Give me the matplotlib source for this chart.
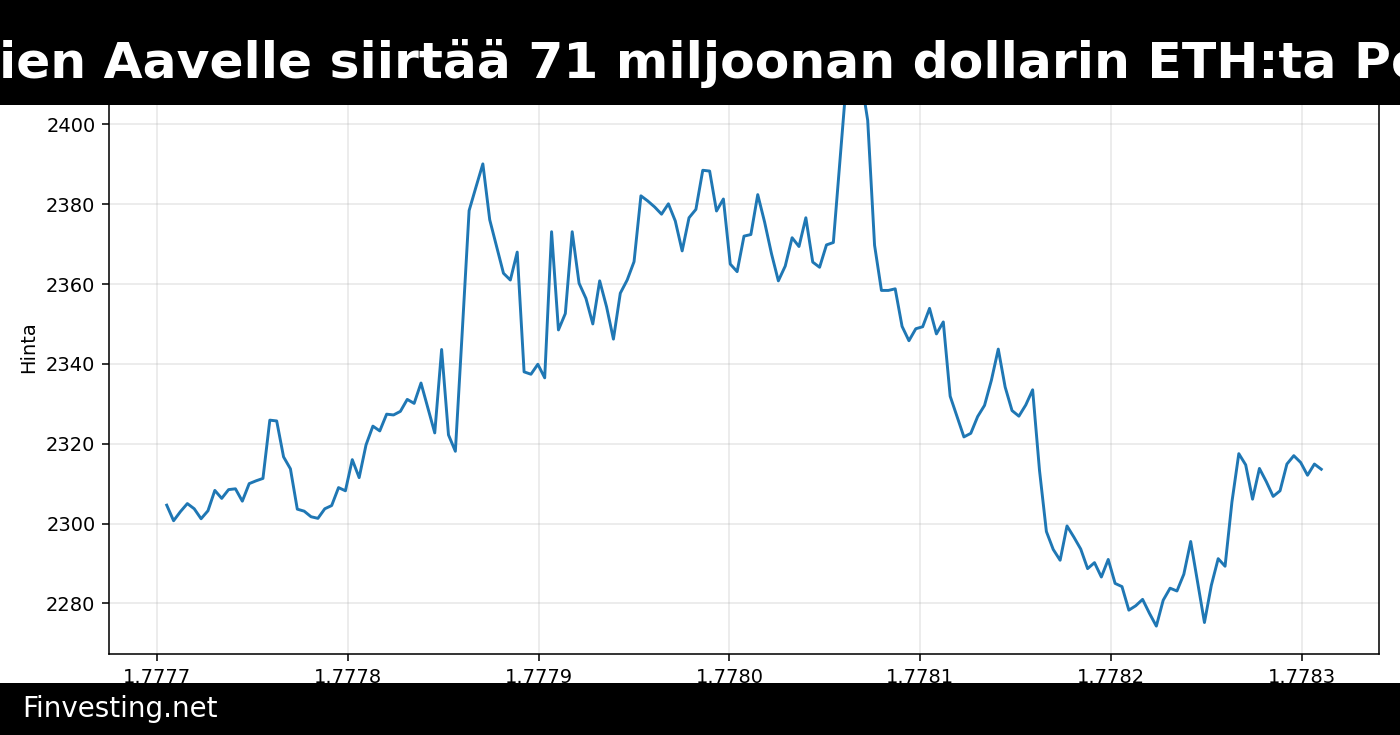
import numpy as np
import matplotlib
matplotlib.use('Agg')
import matplotlib.pyplot as plt

# hourly ETH price, timestamps in unix seconds
start_ts = 1777705200
precos = [
    2304.6, 2300.7, 2303.0, 2305.0, 2303.7, 2301.2, 2303.2, 2308.3, 2306.3, 2308.5,
    2308.7, 2305.6, 2310.0, 2310.7, 2311.3, 2325.9, 2325.7, 2316.7, 2313.7, 2303.6,
    2303.1, 2301.7, 2301.3, 2303.7, 2304.5, 2309.0, 2308.2, 2316.0, 2311.5, 2319.7,
    2324.4, 2323.2, 2327.4, 2327.2, 2328.1, 2331.1, 2330.1, 2335.2, 2328.9, 2322.7,
    2343.6, 2322.2, 2318.1, 2348.0, 2378.4, 2384.3, 2390.1, 2376.1, 2369.4, 2362.7,
    2361.0, 2368.0, 2338.0, 2337.4, 2339.9, 2336.5, 2373.1, 2348.5, 2352.6, 2373.1,
    2360.2, 2356.4, 2350.0, 2360.8, 2354.3, 2346.2, 2357.7, 2361.0, 2365.6, 2382.1,
    2380.8, 2379.3, 2377.5, 2380.1, 2375.8, 2368.3, 2376.6, 2378.7, 2388.5, 2388.3,
    2378.3, 2381.3, 2365.0, 2363.1, 2372.0, 2372.4, 2382.4, 2375.5, 2367.6, 2360.8,
    2364.5, 2371.6, 2369.4, 2376.6, 2365.5, 2364.2, 2369.8, 2370.4, 2391.6, 2413.0,
    2414.0, 2412.0, 2401.0, 2369.7, 2358.4, 2358.4, 2358.8, 2349.4, 2345.8, 2348.8,
    2349.3, 2353.9, 2347.5, 2350.5, 2331.9, 2326.8, 2321.7, 2322.6, 2326.8, 2329.6,
    2335.9, 2343.7, 2334.2, 2328.3, 2326.9, 2329.7, 2333.5, 2313.3, 2298.0, 2293.5,
    2290.8, 2299.4, 2296.6, 2293.6, 2288.7, 2290.2, 2286.6, 2291.0, 2285.0, 2284.2,
    2278.3, 2279.4, 2281.0, 2277.5, 2274.3, 2280.8, 2283.8, 2283.1, 2287.3, 2295.5,
    2285.4, 2275.2, 2284.5, 2291.2, 2289.3, 2305.4, 2317.5, 2314.7, 2306.1, 2313.8,
    2310.5, 2306.8, 2308.2, 2314.9, 2317.0, 2315.3, 2312.1, 2314.9, 2313.6,
]
tempos = start_ts + 3600 * np.arange(len(precos))

titulo = 'ien Aavelle siirtää 71 miljoonan dollarin ETH:ta Po'
marca = 'Finvesting.net'

fig = plt.figure(figsize=(10, 5.25), dpi=140)
ax = fig.add_axes([109 / 1400, 1 - 654 / 735, 1270 / 1400, (654 - 40.6) / 735])
ax.plot(tempos, precos, color='#1f77b4', linewidth=1.5)
ax.set_ylabel('Hinta')
ax.grid(True, alpha=0.3)

# black banners on top and bottom
topo = fig.add_axes([0, 1 - 105 / 735, 1, 105 / 735], zorder=10)
topo.set_facecolor('black')
topo.set_xticks([])
topo.set_yticks([])
for s in topo.spines.values():
    s.set_visible(False)
fig.text(-1 / 1400, 1 - 78.3 / 735, titulo, color='white', fontsize=25.9,
         fontweight='bold', ha='left', va='baseline', zorder=11)

base = fig.add_axes([0, 0, 1, 52 / 735], zorder=10)
base.set_facecolor('black')
base.set_xticks([])
base.set_yticks([])
for s in base.spines.values():
    s.set_visible(False)
fig.text(22 / 1400, 1 - 717.3 / 735, marca, color='white', fontsize=14.3,
         ha='left', va='baseline', zorder=11)

fig.savefig('out.png', dpi=140)
